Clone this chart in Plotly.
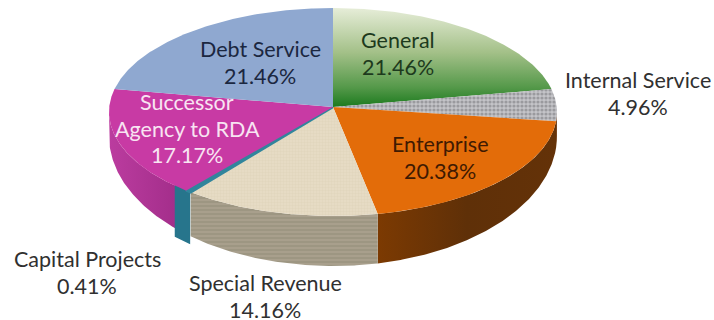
import numpy as np
import plotly.graph_objects as go

# Fund shares, clockwise from twelve o'clock
categories = ["General", "Internal Service", "Enterprise", "Special Revenue",
              "Capital Projects", "Successor Agency to RDA", "Debt Service"]
shares = [21.46, 4.96, 20.38, 14.16, 0.41, 17.17, 21.46]

# Tilted-disc geometry in page pixels
CX, APEX_Y = 333, 107
RX = 224
TOP_CY, TOP_RY = 112, 104
BOT_CY, BOT_RY = 136, 130
# The thin teal slice is pulled slightly out of the pie
SLIVER_SHIFT = (-6, -1)
LINE_GAP = 26.5


def top_rim(t):
    return CX + RX * np.sin(t), TOP_CY - TOP_RY * np.cos(t)


def bottom_rim(t):
    return CX + RX * np.sin(t), BOT_CY - BOT_RY * np.cos(t)


def span(a, b):
    return np.radians(np.linspace(a, b, max(int(abs(b - a) * 2), 2) + 1))


def top_face(a, b):
    x, y = top_rim(span(a, b))
    return np.r_[CX, x, CX], np.r_[APEX_Y, y, APEX_Y]


def side_wall(a, b):
    a, b = max(a, 90), min(b, 270)
    if a >= b:
        return None
    x1, y1 = top_rim(span(a, b))
    x2, y2 = bottom_rim(span(b, a))
    return np.r_[x1, x2, x1[0]], np.r_[y1, y2, y1[0]]


edges = np.r_[0, np.cumsum(shares)] * 3.6

face_style = {
    "General": dict(fillgradient=dict(type="vertical", colorscale=[
        [0, "#1c7a1e"], [0.2, "#55994a"], [0.55, "#a3c088"], [1, "#e6edd8"]])),
    "Internal Service": dict(fillpattern=dict(shape=".", size=4, solidity=0.5,
                                              fgcolor="#6f6f74", bgcolor="#c4c4c8")),
    "Enterprise": dict(fillcolor="#e36c09"),
    "Special Revenue": dict(fillpattern=dict(shape="+", size=3, solidity=0.2,
                                             fgcolor="#d3c6aa", bgcolor="#e6dbc4")),
    "Capital Projects": dict(fillcolor="#31859c"),
    "Successor Agency to RDA": dict(fillcolor="#c83aa4"),
    "Debt Service": dict(fillcolor="#8fa8d0"),
}
wall_style = {
    "Internal Service": dict(fillcolor="#6a3407"),
    "Enterprise": dict(fillgradient=dict(type="horizontal", colorscale=[
        [0, "#7c3a02"], [0.5, "#5f3008"], [1, "#643208"]])),
    "Special Revenue": dict(fillpattern=dict(shape="-", size=4, solidity=0.35,
                                             fgcolor="#8a8270", bgcolor="#a89f8c")),
    "Capital Projects": dict(fillcolor="#27758c"),
    "Successor Agency to RDA": dict(fillgradient=dict(type="horizontal", colorscale=[
        [0, "#bb3c9f"], [1, "#a02c88"]])),
}

fig = go.Figure()

# Extruded edge first, drawn so the teal sliver sits over its neighbours
wall_order = sorted(range(len(categories)), key=lambda i: categories[i] == "Capital Projects")
for i in wall_order:
    name = categories[i]
    pts = side_wall(edges[i], edges[i + 1])
    if pts is None or name not in wall_style:
        continue
    thick = name == "Capital Projects"
    wx = pts[0] + SLIVER_SHIFT[0] if thick else pts[0]
    wy = pts[1] + SLIVER_SHIFT[1] if thick else pts[1]
    fig.add_trace(go.Scatter(
        x=wx, y=wy, mode="lines", fill="toself", name=name, hoverinfo="skip",
        line=dict(width=11 if thick else 0, color="#27758c" if thick else "rgba(0,0,0,0)"),
        **wall_style[name]))

for i, name in enumerate(categories):
    x, y = top_face(edges[i], edges[i + 1])
    thick = name == "Capital Projects"
    fig.add_trace(go.Scatter(
        x=x, y=y, mode="lines", fill="toself", name=name, hoverinfo="text", text=f"{name} {shares[i]:.2f}%",
        line=dict(width=2.5 if thick else 0, color="#31859c" if thick else "rgba(0,0,0,0)"),
        **face_style[name]))

# Label placement: centre x, y of the first line, wrapped name lines, colour
label_place = {
    "General": (398, 40, ["General"], "#1d3a1d"),
    "Internal Service": (638, 80, ["Internal Service"], "#303030"),
    "Enterprise": (440, 144, ["Enterprise"], "#3f1a02"),
    "Special Revenue": (265, 283, ["Special Revenue"], "#303030"),
    "Capital Projects": (87, 259, ["Capital Projects"], "#303030"),
    "Successor Agency to RDA": (187, 102, ["Successor", "Agency to RDA"], "#f8e4f2"),
    "Debt Service": (260, 49, ["Debt Service"], "#1b2740"),
}
for name, share in zip(categories, shares):
    px, py, lines, colour = label_place[name]
    for k, line_text in enumerate(lines + [f"{share:.2f}%"]):
        fig.add_annotation(x=px, y=py + k * LINE_GAP, text=line_text, showarrow=False,
                           font=dict(family="Lato", size=21.5, color=colour),
                           xanchor="center", yanchor="middle", borderpad=0)

fig.update_layout(
    width=714, height=320, margin=dict(l=0, r=0, t=0, b=0),
    paper_bgcolor="white", plot_bgcolor="white", showlegend=False,
    xaxis=dict(range=[0, 714], visible=False, fixedrange=True),
    yaxis=dict(range=[320, 0], visible=False, fixedrange=True),
)
fig.write_html("out.html", config=dict(displayModeBar=False))
